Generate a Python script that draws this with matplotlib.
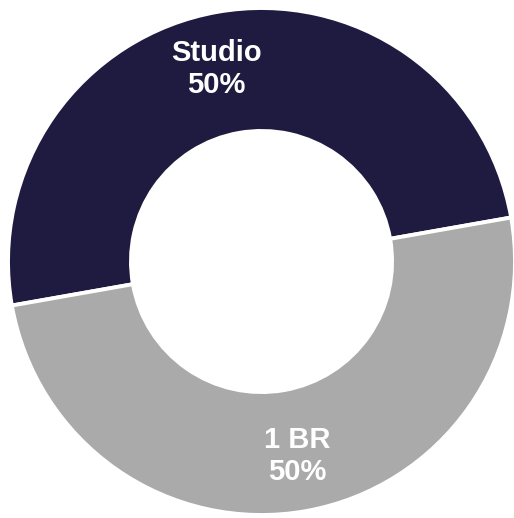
import numpy as np
import matplotlib
matplotlib.use("Agg")
import matplotlib.pyplot as plt

categories = ["Studio", "1 BR"]
shares = [50, 50]
colors = ["#1f1a40", "#a9aaa9"]
label_nudge_deg = [3.2, 0.4]


def main():
    plt.rcParams["font.family"] = ["Liberation Sans", "DejaVu Sans"]

    fig = plt.figure(figsize=(5.14, 5.18), dpi=100)
    ax = fig.add_axes([0, 0, 1, 1])

    wedges, _ = ax.pie(
        shares,
        colors=colors,
        startangle=10,
        counterclock=True,
        radius=1.0,
        wedgeprops=dict(width=0.485, edgecolor="white", linewidth=2.8),
    )

    for w, cat, val, nudge in zip(wedges, categories, shares, label_nudge_deg):
        ang = np.deg2rad((w.theta1 + w.theta2) / 2 + nudge)
        r = 0.78
        ax.text(r * np.cos(ang), r * np.sin(ang), f"{cat}\n{val}%",
                ha="center", va="center", color="white",
                fontsize=21, fontweight="bold", linespacing=1.15)

    ax.set_xlim(-1.0316, 0.996)
    ax.set_ylim(-1.0118, 1.0316)
    ax.set_aspect("auto")
    ax.axis("off")

    fig.savefig("out.png", dpi=100, facecolor="white")


if __name__ == "__main__":
    main()
